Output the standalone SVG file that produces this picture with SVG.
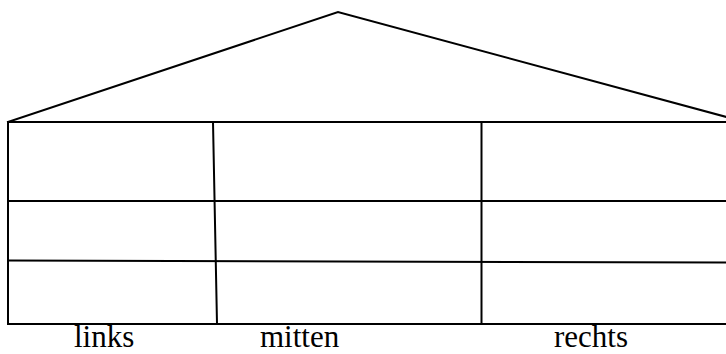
<svg xmlns="http://www.w3.org/2000/svg" width="726" height="354" viewBox="0 0 726 354">
<style>
.l{stroke:#000;stroke-width:2;fill:none;stroke-linecap:square}
.t{font-family:"Liberation Serif",serif;font-size:31px;fill:#000}
</style>
<rect width="726" height="354" fill="#fff"/>
<g id="roof"><polyline class="l" points="8,122 338,12 745,122"/></g>
<g id="house">
<line class="l" x1="8" y1="122" x2="730" y2="122"/>
<line class="l" x1="8" y1="122" x2="8" y2="324"/>
<line class="l" x1="8" y1="324" x2="730" y2="324"/>
<line class="l" x1="8" y1="201" x2="730" y2="201"/>
<line class="l" x1="8" y1="260.5" x2="730" y2="262.5"/>
<line class="l" x1="213" y1="122" x2="217" y2="324"/>
<line class="l" x1="481.5" y1="122" x2="481.5" y2="324"/>
</g>
<g id="labels">
<text class="t" x="74" y="347">links</text>
<text class="t" x="260" y="347">mitten</text>
<text class="t" x="554" y="347">rechts</text>
</g>
</svg>
